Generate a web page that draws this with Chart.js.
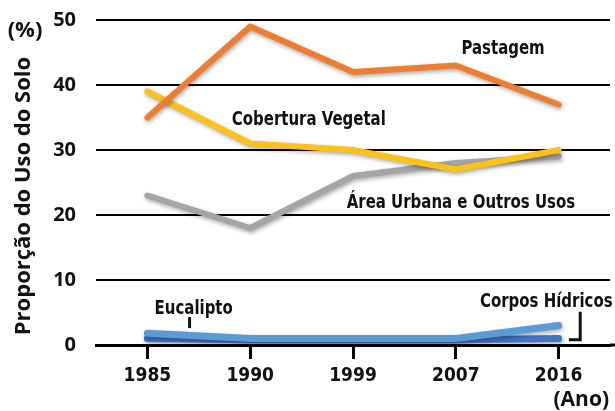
<!DOCTYPE html>
<html>
<head>
<meta charset="utf-8">
<script src="https://cdn.jsdelivr.net/npm/chart.js@4/dist/chart.umd.min.js"></script>
<style>
html,body{margin:0;padding:0;background:#fff;}
#wrap{width:615px;height:411px;position:relative;}
</style>
</head>
<body>
<div id="wrap"><canvas id="c" width="615" height="411"></canvas></div>
<script>
const years = ["1985", "1990", "1999", "2007", "2016"];
const pastagem = [35, 49, 42, 43, 37];
const coberturaVegetal = [39, 31, 30, 27, 30];
const areaUrbana = [23, 18, 26, 28, 29];
const eucalipto = [1.8, 1.0, 1.0, 1.0, 3.0];
const corposHidricos = [1.0, 0.8, 0.8, 0.8, 1.0];
const yTicks = [0, 10, 20, 30, 40, 50];

const seriesNames = ["Pastagem", "Cobertura Vegetal", "Área Urbana e Outros Usos", "Eucalipto", "Corpos Hídricos"];
// label anchors in data units: [category index (fractional), value]
const labelAnchors = [[3.46, 45.6], [1.57, 34.6], [3.05, 21.8], [0.45, 5.6], [3.88, 6.6]];

const condensed = "'DejaVu Sans Condensed', 'DejaVu Sans', sans-serif";
const regular = "'Open Sans', 'Noto Sans', sans-serif";

const shadowPlugin = {
  id: 'shadow',
  beforeDatasetDraw(chart) {
    const ctx = chart.ctx;
    ctx.save();
    ctx.shadowColor = 'rgba(0,0,0,0.35)';
    ctx.shadowBlur = 4;
    ctx.shadowOffsetX = 1;
    ctx.shadowOffsetY = 2;
  },
  afterDatasetDraw(chart) {
    chart.ctx.restore();
  }
};

function condensedText(ctx, txt, x, y) {
  ctx.save();
  ctx.translate(x, y);
  ctx.scale(0.875, 1);
  ctx.fillText(txt, 0, 0);
  ctx.restore();
}

const textPlugin = {
  id: 'texts',
  afterDraw(chart) {
    const ctx = chart.ctx;
    const xs = chart.scales.x, ys = chart.scales.y;
    ctx.save();
    // extend the base axis line to the right edge
    ctx.strokeStyle = '#000';
    ctx.lineWidth = 3;
    ctx.beginPath();
    ctx.moveTo(chart.chartArea.right, ys.getPixelForValue(0));
    ctx.lineTo(chart.width, ys.getPixelForValue(0));
    ctx.stroke();

    ctx.fillStyle = '#111';
    ctx.textAlign = 'center';
    ctx.textBaseline = 'middle';
    ctx.font = "bold 19px " + condensed;
    seriesNames.forEach((n, i) => {
      const a = labelAnchors[i];
      condensedText(ctx, n, xs.getPixelForValue(a[0]), ys.getPixelForValue(a[1]));
    });
    // leader lines
    ctx.strokeStyle = '#111';
    ctx.lineWidth = 3;
    ctx.lineCap = 'butt';
    const ex = xs.getPixelForValue(0.41);
    ctx.beginPath();
    ctx.moveTo(ex, ys.getPixelForValue(4.3));
    ctx.lineTo(ex, ys.getPixelForValue(2.6));
    ctx.stroke();
    const cx = xs.getPixelForValue(4.21);
    const cx2 = xs.getPixelForValue(4.1);
    ctx.beginPath();
    ctx.moveTo(cx, ys.getPixelForValue(5.1));
    ctx.lineTo(cx, ys.getPixelForValue(0.8));
    ctx.lineTo(cx2, ys.getPixelForValue(0.8));
    ctx.stroke();
    // y title
    ctx.font = "bold 22px " + regular;
    ctx.save();
    ctx.translate(24, 196);
    ctx.rotate(-Math.PI / 2);
    ctx.fillText("Proporção do Uso do Solo", 0, 0);
    ctx.restore();
    ctx.fillText("(%)", 25, 31);
    ctx.font = "bold 21px " + regular;
    ctx.textAlign = 'right';
    ctx.fillText("(Ano)", 609, 400);
    ctx.restore();
  }
};

const common = {
  fill: false, pointRadius: 0, pointHoverRadius: 0, tension: 0,
  borderCapStyle: 'round', borderJoinStyle: 'round'
};

function draw() {
new Chart(document.getElementById('c'), {
  type: 'line',
  data: {
    labels: years,
    datasets: [
      Object.assign({label: seriesNames[0], data: pastagem, borderColor: '#ed7d31', borderWidth: 6}, common),
      Object.assign({label: seriesNames[1], data: coberturaVegetal, borderColor: '#fdc117', borderWidth: 6}, common),
      Object.assign({label: seriesNames[2], data: areaUrbana, borderColor: '#a5a5a5', borderWidth: 6}, common),
      Object.assign({label: seriesNames[3], data: eucalipto, borderColor: '#5b9bd5', borderWidth: 7}, common),
      Object.assign({label: seriesNames[4], data: corposHidricos, borderColor: '#4472c4', borderWidth: 7}, common)
    ]
  },
  options: {
    responsive: false,
    animation: false,
    layout: {padding: {top: 20, right: 5, left: 0, bottom: 0}},
    plugins: {legend: {display: false}, tooltip: {enabled: false}},
    scales: {
      x: {
        type: 'category',
        offset: true,
        afterFit(s) { s.height = 66; },
        grid: {offset: false, drawOnChartArea: false, drawTicks: true, tickLength: 14, tickWidth: 3, tickColor: '#000'},
        border: {display: true, color: '#000', width: 3},
        ticks: {color: '#111', padding: 6, font: {family: condensed, weight: 'bold', size: 19}}
      },
      y: {
        min: 0, max: 50,
        afterFit(s) { s.width = 96; s.paddingTop = 0; s.paddingBottom = 0; },
        afterBuildTicks(s) { s.ticks = yTicks.map(v => ({value: v})); },
        grid: {color: '#000', lineWidth: 2, drawTicks: false},
        border: {display: false},
        ticks: {color: '#111', padding: 20, font: {family: regular, weight: 'bold', size: 20}}
      }
    }
  },
  plugins: [shadowPlugin, textPlugin]
});
}
Promise.all([
  document.fonts.load("bold 20px 'Open Sans'"),
  document.fonts.load("bold 19px 'DejaVu Sans Condensed'")
]).then(draw, draw);
</script>
</body>
</html>
